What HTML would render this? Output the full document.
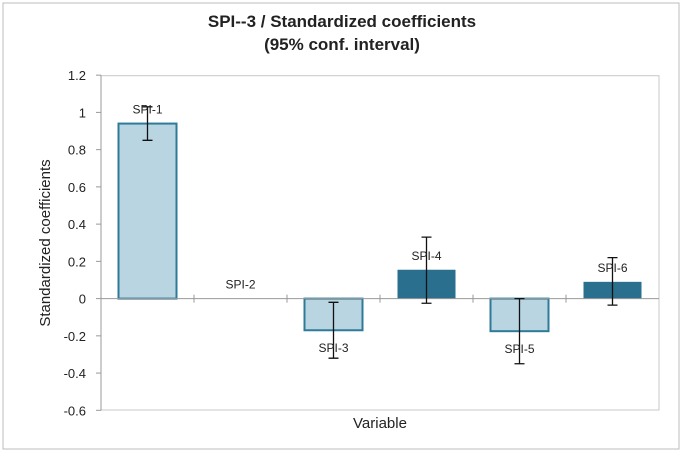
<!DOCTYPE html>
<html><head><meta charset="utf-8"><style>
body{margin:0;background:#fff}
svg{display:block;font-family:"Liberation Sans",sans-serif}
</style></head><body>
<svg id="c" width="685" height="454">
<rect x="3" y="3" width="676" height="446" fill="#fff" stroke="#bdbdbd"/>
<text x="342" y="27" text-anchor="middle" font-size="17" font-weight="bold" fill="#222">SPI--3 / Standardized coefficients</text>
<text x="342" y="50" text-anchor="middle" font-size="17" font-weight="bold" fill="#222">(95% conf. interval)</text>
<rect x="101" y="75.7" width="558" height="334.3" fill="none" stroke="#c8c8c8"/>
<text transform="translate(50,243) rotate(-90)" text-anchor="middle" font-size="15" fill="#222">Standardized coefficients</text>
<text x="380" y="428" text-anchor="middle" font-size="15" fill="#222">Variable</text>
<g id="g"></g>
</svg>
<script>
const categories=["SPI-1","SPI-2","SPI-3","SPI-4","SPI-5","SPI-6"];
const values=[0.94,0,-0.17,0.155,-0.175,0.09];
const errLow=[0.85,0,-0.32,-0.025,-0.35,-0.035];
const errHigh=[1.03,0,-0.02,0.33,0,0.22];
const dark=[false,false,false,true,false,true];
const ticks=[1.2,1,0.8,0.6,0.4,0.2,0,-0.2,-0.4,-0.6];
const ns="http://www.w3.org/2000/svg",g=document.getElementById('g');
const y=v=>298.6-(v)*186.2, L=101, band=93;
const x=i=>L+i*band;
function mk(t,a){const e=document.createElementNS(ns,t);for(const k in a)e.setAttribute(k,a[k]);g.appendChild(e);return e;}
ticks.forEach(t=>{
 const tl=mk('line',{x1:96,x2:101,y1:y(t),y2:y(t),stroke:'#999'});
 
 
 const tx=mk('text',{x:86,y:y(t)+5,'text-anchor':'end','font-size':13,fill:'#222'});
 tx.textContent=String(t);
 
 
});
const yl=mk('line',{x1:101,x2:101,y1:y(1.2),y2:y(-0.6),stroke:'#999'});


categories.forEach((c,i)=>{
 const v=values[i];
 if(v!==0){
  const r=mk('rect',{x:x(i)+17.5,y:Math.min(y(v),y(0)),width:58,height:Math.abs(y(v)-y(0)),fill:dark[i]?'#2a6f8e':'#b9d5e1',stroke:'#2e7a99','stroke-width':dark[i]?0:2});
  
  
 }
});
const xl=mk('line',{x1:101,x2:659,y1:y(0),y2:y(0),stroke:'#999'});


for(let i=1;i<6;i++){
 const t=mk('line',{x1:x(i),x2:x(i),y1:y(0)-4,y2:y(0)+4,stroke:'#999'});
 
 
}
categories.forEach((c,i)=>{
 const cx=x(i)+band/2;
 if(errLow[i]!==errHigh[i]){
  const e=mk('path',{d:`M${cx},${y(errHigh[i])}V${y(errLow[i])}M${cx-5},${y(errHigh[i])}h10M${cx-5},${y(errLow[i])}h10`,stroke:'#111','stroke-width':1.3,fill:'none'});
  
  
 }
 const v=values[i];
 const ly=v>0?y(v+0.08)+5:(v<0?y(v-0.09)+5:y(0.08)+5);
 const t=mk('text',{x:cx,y:ly,'text-anchor':'middle','font-size':12,fill:'#222'});
 t.textContent=c;
 
 
});
</script>
</body></html>
